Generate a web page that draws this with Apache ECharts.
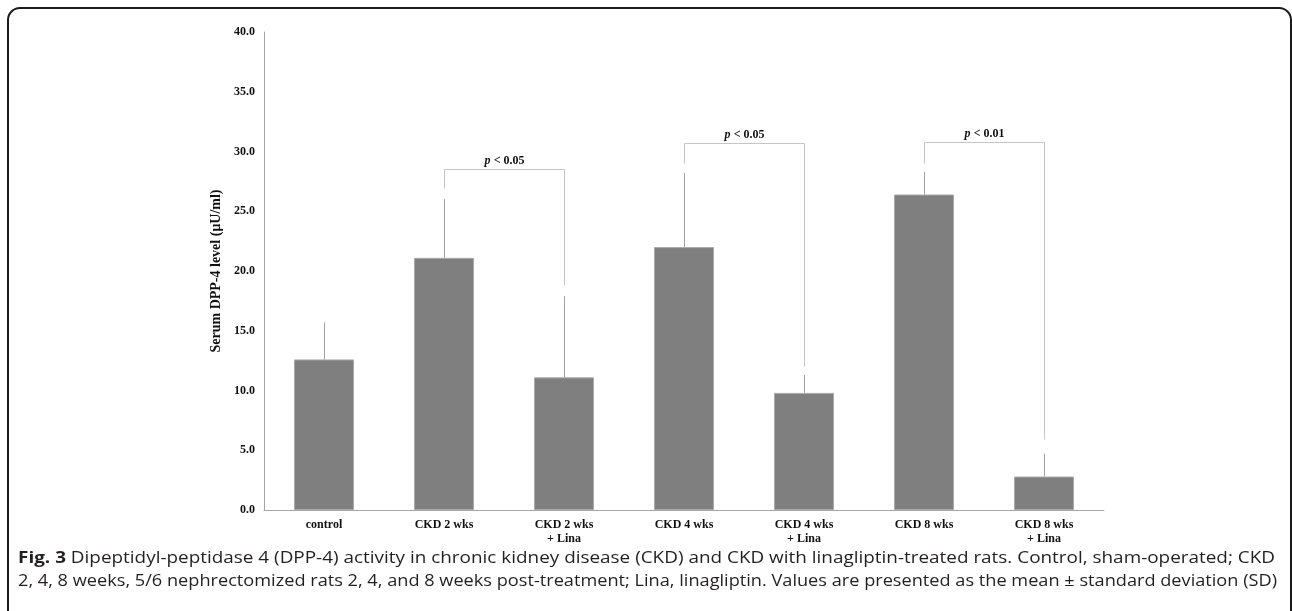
<!DOCTYPE html>
<html>
<head>
<meta charset="utf-8">
<script src="https://cdn.jsdelivr.net/npm/echarts@6/dist/echarts.min.js"></script>
<style>
  html, body { margin: 0; padding: 0; background: #fff; }
  #chart { width: 1292px; height: 611px; }
</style>
</head>
<body>
<div id="chart"></div>
<script>
// Groups and serum DPP-4 activity (mean and SD, µU/ml)
const categories = ['control', 'CKD 2 wks', 'CKD 2 wks\n+ Lina', 'CKD 4 wks', 'CKD 4 wks\n+ Lina', 'CKD 8 wks', 'CKD 8 wks\n+ Lina'];
const meanValues = [12.6, 21.1, 11.1, 22.0, 9.8, 26.4, 2.8];
const sdValues = [3.1, 4.9, 6.8, 6.2, 1.5, 1.9, 1.9];

// y-axis ticks
const yTicks = [0, 5, 10, 15, 20, 25, 30, 35, 40];

// Significance brackets between group pairs
const bracketFrom = [1, 3, 5];
const bracketTo = [2, 4, 6];
const bracketTop = [28.5, 30.7, 30.8];
const bracketLeftEnd = [26.9, 29.0, 29.0];
const bracketRightEnd = [18.8, 12.0, 5.9];
const bracketP = ['0.05', '0.05', '0.01'];

const captionLines = [
  ['Fig. 3', ' Dipeptidyl-peptidase 4 (DPP-4) activity in chronic kidney disease (CKD) and CKD with linagliptin-treated rats. Control, sham-operated; CKD'],
  ['', '2, 4, 8 weeks, 5/6 nephrectomized rats 2, 4, and 8 weeks post-treatment; Lina, linagliptin. Values are presented as the mean \u00b1 standard deviation (SD)']
];

const serif = '"Liberation Serif", "Times New Roman", serif';
const sans = '"Open Sans", "Noto Sans", sans-serif';
const capSize = 16.5;
const capWidths = [1257, 1259];

// the caption face runs wider than the original typesetting, so each line is squeezed to its width
const measureCtx = document.createElement('canvas').getContext('2d');
function lineWidth(size, parts) {
  measureCtx.font = 'bold ' + size + 'px ' + sans;
  const w = parts[0] ? measureCtx.measureText(parts[0]).width : 0;
  measureCtx.font = size + 'px ' + sans;
  return w + measureCtx.measureText(parts[1]).width;
}

const chart = echarts.init(document.getElementById('chart'), null, { renderer: 'canvas' });

const errorData = meanValues.map((v, i) => [i, v, v + sdValues[i]]);
const bracketData = bracketFrom.map((f, i) => [f, bracketTo[i], bracketTop[i], bracketLeftEnd[i], bracketRightEnd[i], bracketP[i]]);

const option = {
  animation: false,
  backgroundColor: '#ffffff',
  grid: { left: 264, right: 188, top: 32, bottom: 101, containLabel: false },
  xAxis: {
    type: 'category',
    data: categories,
    axisTick: { show: false },
    axisLine: { lineStyle: { color: '#a6a6a6', width: 1 } },
    axisLabel: {
      margin: 8,
      color: '#111',
      fontFamily: serif,
      fontWeight: 'bold',
      fontSize: 12,
      lineHeight: 14,
      interval: 0
    }
  },
  yAxis: {
    type: 'value',
    min: yTicks[0],
    max: yTicks[yTicks.length - 1],
    interval: yTicks[1] - yTicks[0],
    name: 'Serum DPP-4 level (\u03bcU/ml)',
    nameLocation: 'middle',
    nameRotate: 90,
    nameGap: 40,
    nameTextStyle: { fontFamily: serif, fontWeight: 'bold', fontSize: 14, color: '#111' },
    axisLine: { show: true, lineStyle: { color: '#a6a6a6', width: 1 } },
    axisTick: { show: false },
    splitLine: { show: false },
    axisLabel: {
      margin: 9,
      color: '#111',
      fontFamily: serif,
      fontWeight: 'bold',
      fontSize: 12,
      formatter: v => v.toFixed(1)
    }
  },
  series: [
    {
      type: 'bar',
      data: meanValues,
      barWidth: 60,
      itemStyle: { color: '#7f7f7f', borderColor: '#a9a9a9', borderWidth: 1 },
      z: 2
    },
    {
      // upper SD whiskers
      type: 'custom',
      data: errorData,
      z: 3,
      renderItem: (params, api) => {
        const p0 = api.coord([api.value(0), api.value(1)]);
        const p1 = api.coord([api.value(0), api.value(2)]);
        return {
          type: 'line',
          shape: { x1: Math.round(p0[0]) + 0.5, y1: p0[1], x2: Math.round(p1[0]) + 0.5, y2: p1[1] },
          style: { stroke: '#a0a0a0', lineWidth: 1 }
        };
      }
    },
    {
      // significance brackets with p-value labels
      type: 'custom',
      data: bracketData,
      z: 4,
      renderItem: (params, api) => {
        const f = api.value(0), t = api.value(1);
        const top = api.value(2), le = api.value(3), re = api.value(4);
        const pv = bracketData[params.dataIndex][5];
        const a = api.coord([f, top]);
        const b = api.coord([t, top]);
        const al = api.coord([f, le]);
        const br = api.coord([t, re]);
        const xl = Math.round(a[0]) + 0.5, xr = Math.round(b[0]) + 0.5, yt = Math.round(a[1]) + 0.5;
        return {
          type: 'group',
          children: [
            {
              type: 'polyline',
              shape: { points: [[xl, al[1]], [xl, yt], [xr, yt], [xr, br[1]]] },
              style: { stroke: '#c6c6c6', lineWidth: 1, fill: null }
            },
            {
              type: 'text',
              x: (xl + xr) / 2,
              y: yt - 9,
              style: {
                text: '{i|p} {b|< ' + pv + '}',
                align: 'center',
                verticalAlign: 'middle',
                rich: {
                  i: { fontFamily: serif, fontStyle: 'italic', fontWeight: 'bold', fontSize: 12, fill: '#111' },
                  b: { fontFamily: serif, fontWeight: 'bold', fontSize: 12, fill: '#111' }
                }
              }
            }
          ]
        };
      }
    }
  ],
  graphic: [
    {
      type: 'rect',
      shape: { x: 8, y: 8, width: 1283, height: 640, r: 12 },
      style: { fill: null, stroke: '#1a1a1a', lineWidth: 2 },
      silent: true
    },
    ...captionLines.map((parts, i) => ({
      type: 'text',
      x: 18,
      y: 558 + i * 23,
      scaleX: capWidths[i] / lineWidth(capSize, parts),
      style: {
        text: (parts[0] ? '{b|' + parts[0] + '}' : '') + '{r|' + parts[1] + '}',
        verticalAlign: 'middle',
        rich: {
          b: { fontFamily: sans, fontWeight: 'bold', fontSize: capSize, fill: '#231f20' },
          r: { fontFamily: sans, fontSize: capSize, fill: '#231f20' }
        }
      }
    }))
  ]
};

chart.setOption(option);
</script>
</body>
</html>
